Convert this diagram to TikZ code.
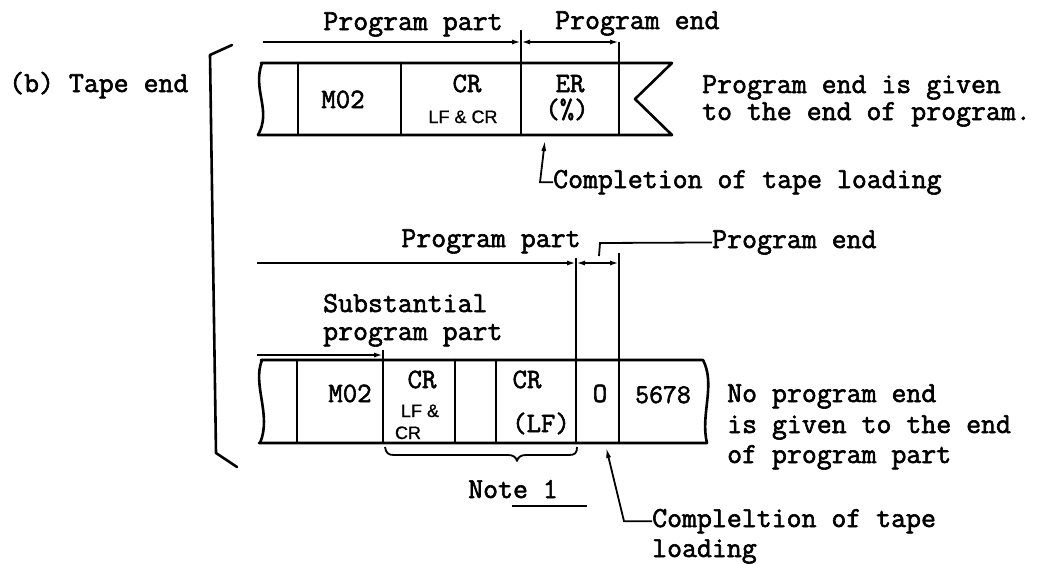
\documentclass[tikz,border=0pt]{standalone}
\usepackage{fontspec}
\newfontfamily\twfont{Latin Modern Mono}[FakeBold=2]
\newfontfamily\lsfont{Liberation Sans}[FakeBold=1]
\usetikzlibrary{arrows.meta}
\tikzset{
  tw/.style={font=\twfont\fontsize{29}{34}\selectfont, inner sep=0pt},
  cell/.style={font=\twfont\fontsize{28}{32}\selectfont, inner sep=0pt, anchor=base},
  smalltxt/.style={font=\lsfont\fontsize{18}{20}\selectfont, inner sep=0pt, anchor=base},
  tape/.style={line width=2.6pt, line join=round, line cap=round},
  thinline/.style={line width=1.8pt},
  dimline/.style={line width=1.8pt, -{Latex[length=9pt,width=5pt]}},
  dimboth/.style={line width=1.8pt, {Latex[length=9pt,width=5pt]}-{Latex[length=9pt,width=5pt]}},
  leader/.style={line width=1.8pt, -{Latex[length=11pt,width=5pt]}},
}
\begin{document}
\begin{tikzpicture}[x=1pt,y=-1pt]
\fill[white] (0,0) rectangle (1057,563);
\path[use as bounding box] (0,0) rectangle (1057,563);

% bracket
\draw[tape] (232,45) -- (210,55) -- (216,453) -- (237,467);
\node[tw, anchor=base west] (tapeend) at (9,92) {(b) Tape end};

% ---------- top tape ----------
\draw[tape] (262,63) .. controls (252,90) and (272,110) .. (258,135);
\draw[tape] (261,63) -- (672,63) -- (635,99) -- (672,135) -- (258,135);
\foreach \x in {298,401,521,619} \draw[tape] (\x,63) -- (\x,135);
\draw[thinline] (521,30) -- (521,63);
\draw[thinline] (619,42) -- (619,63);

\node[cell] (m02a) at (343,108) {M02};
\node[cell] (cra) at (467,92) {CR};
\node[smalltxt] (lfcra) at (463,123) {LF \& CR};
\node[cell] (er) at (570,92) {ER};
\node[cell] (pct) at (567,118) {(\%)};

\node[tw, anchor=base] (pp1) at (413,30) {Program part};
\node[tw, anchor=base west] (pe1) at (555,29) {Program end};
\coordinate (d1s) at (263,42);
\coordinate (d1m) at (521,42);
\coordinate (d1e) at (619,42);
\draw[dimline] (d1s) -- (d1m);
\draw[dimboth] (d1m) -- (d1e);

\node[tw, anchor=base west] (given1) at (702,93) {Program end is given};
\node[tw, anchor=base west] (given2) at (702,120) {to the end of program.};

\node[tw, anchor=base west] (cmp1) at (553,188) {Completion of tape loading};
\coordinate (tip1) at (545,140);
\draw[leader] (cmp1.west) -- ++(-13,0) -- (tip1);

% ---------- bottom tape ----------
\draw[tape] (262,360) .. controls (252,385) and (272,415) .. (260,443);
\draw[tape] (261,360) -- (703,360) .. controls (716,385) and (700,415) .. (707,443) -- (259,443);
\foreach \x in {297,383,455,496,576,619} \draw[tape] (\x,360) -- (\x,443);
\draw[thinline] (383,350) -- (383,360);
\draw[thinline] (576,258) -- (576,360);
\draw[thinline] (619,253) -- (619,360);

\node[cell] (m02b) at (350,402) {M02};
\node[cell] (crb) at (422,388) {CR};
\node[smalltxt] (lfb) at (420,417) {LF \&};
\node[smalltxt] (crc) at (408,439) {CR};
\node[cell] (crd) at (527,388) {CR};
\node[cell] (lf) at (541,432) {(LF)};
\node[cell] (zero) at (600,402) {O};
\node[cell, font=\twfont\fontsize{27}{30}\selectfont] (num) at (663,403) {5678};

\node[tw, anchor=base] (pp2) at (491,247) {Program part};
\node[tw, anchor=base west] (pe2) at (712,248) {Program end};
\coordinate (d2s) at (257,263);
\coordinate (d2m) at (576,263);
\coordinate (d2e) at (619,263);
\draw[dimline] (d2s) -- (d2m);
\draw[dimboth] (d2m) -- (d2e);
\draw[thinline] (599,256) -- (600,243) -- (pe2.west);

\node[tw, anchor=base west] (sub1) at (323,312) {Substantial};
\node[tw, anchor=base west] (sub2) at (323,340) {program part};
\coordinate (d3s) at (257,355);
\coordinate (d3e) at (383,355);
\draw[dimline] (d3s) -- (d3e);

% brace and note
\draw[thinline, line join=round] (385,447) .. controls (386,453) and (388,455) .. (394,455)
  -- (508,455) .. controls (513,455) and (516,457) .. (517,461)
  .. controls (518,457) and (521,455) .. (526,455)
  -- (569,455) .. controls (575,455) and (577,453) .. (577,447);
\node[tw, anchor=base west] (note) at (468,498) {Note 1};
\draw[thinline] (512,506) -- (587,506);

\node[tw, anchor=base west] (no1) at (727,402) {No program end};
\node[tw, anchor=base west] (no2) at (727,433) {is given to the end};
\node[tw, anchor=base west] (no3) at (727,463) {of program part};

\node[tw, anchor=base west] (cmp2) at (652,527) {Compleltion of tape};
\node[tw, anchor=base west] (cmp2b) at (652,557) {loading};
\coordinate (tip2) at (606,447);
\draw[leader] (cmp2.west) -- ++(-28,0) -- (tip2);
\end{tikzpicture}
\end{document}
